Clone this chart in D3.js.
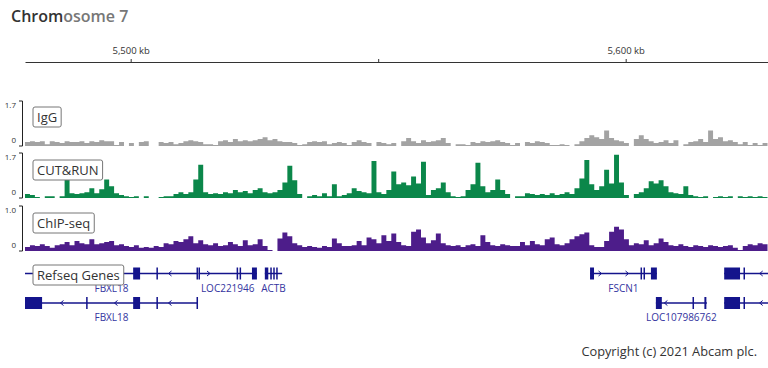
<!DOCTYPE html>
<html>
<head>
<meta charset="utf-8">
<script src="https://cdn.jsdelivr.net/npm/d3@7"></script>
<style>
  body { margin: 0; background: #fff; }
  svg { display: block; font-family: "Open Sans", sans-serif; }
</style>
</head>
<body>
<script>
// Genomic window shown (kb) and signal bin size (kb)
var windowStart = 5478.65;
var windowEnd = 5628.75;
var binSize = 1;
var tickValues = [5500, 5550, 5600];

// Signal tracks, one value per 1 kb bin from windowStart
var iggValues = [
  0.15, 0.18, 0.15, 0.18, 0.07, 0.18,
  0.15, 0.11, 0.18, 0.15, 0.15, 0.18, 0.11, 0.18, 0.15, 0.22, 0.18,
  0.18, 0.04, 0.15, 0, 0.11, 0, 0.15, 0.18, 0, 0,
  0.15, 0.11, 0.15, 0.07, 0.11, 0.18, 0.22, 0.18, 0.15, 0.07, 0.07, 0.04,
  0.18, 0.22, 0.15, 0.26, 0.18, 0.22, 0.18, 0.22, 0.26, 0.33,
  0.22, 0.26, 0.18, 0.15, 0.15, 0.11, 0.04, 0.07, 0.15, 0.18, 0.15, 0.18,
  0.07, 0.11, 0.15, 0.11, 0.04, 0.15, 0.22, 0.15, 0.11, 0,
  0.15, 0.11, 0.07, 0.11, 0, 0.18, 0.30, 0.18, 0.11, 0.22,
  0.15, 0.18, 0.22, 0.30, 0.11, 0, 0.07, 0.07, 0.04,
  0.15, 0.11, 0.18, 0.15, 0.18, 0.22, 0.15, 0.11, 0.04, 0.11, 0,
  0.15, 0.11, 0.18, 0.15, 0.11, 0.04, 0.04, 0.07, 0.04, 0, 0.07,
  0.18, 0.30, 0.41, 0.33, 0.26, 0.59, 0.30, 0.22, 0.18, 0.11, 0,
  0.26, 0.41, 0.26, 0.18, 0.11, 0.15, 0.22, 0.11, 0.22, 0, 0.07,
  0.15, 0.18, 0.26, 0.15, 0.59, 0.26, 0.33, 0.18, 0.22, 0.15,
  0.07, 0.15, 0.04, 0.11, 0.04, 0.11
];
var cutRunValues = [
  0.15, 0.11, 0.04, 0, 0.07, 0.07, 0, 0.07, 0.70, 0.18,
  0.15, 0.18, 0.22, 0.37, 0.18, 0.33, 0.70, 0.44, 0.18, 0.11,
  0.07, 0.04, 0.07, 0, 0.07, 0, 0, 0.04, 0.07, 0.07,
  0.15, 0.22, 0.15, 0.22, 0.70, 1.26, 0.22, 0.15, 0.18, 0.15,
  0.22, 0.18, 0.30, 0.22, 0.26, 0.18, 0.30, 0.37, 0.22, 0.18,
  0.22, 0.30, 0.59, 1.22, 0.67, 0.15, 0, 0.07, 0.11, 0.07,
  0.18, 0.07, 0.52, 0.07, 0.11, 0.18, 0.37, 0.26, 0.22, 0.18,
  1.40, 0.22, 0.15, 0.30, 1.00, 0.52, 0.59, 0.48, 0.81, 0.55,
  1.37, 0.11, 0.30, 0.37, 0.59, 0.22, 0.07, 0.04, 0.07, 0.30,
  0.52, 1.33, 0.44, 0.22, 0.30, 0.70, 0.30, 0.15, 0, 0.07,
  0.07, 0.18, 0.15, 0.11, 0.15, 0.11, 0.18, 0.11, 0.15, 0.22,
  0.15, 0.37, 0.74, 1.44, 0.52, 0.30, 0.44, 1.07, 0.55, 1.63,
  0.59, 0.11, 0, 0.15, 0.22, 0.37, 0.63, 0.55, 0.67, 0.44,
  0.22, 0.18, 0.15, 0.44, 0.11, 0.07, 0.04, 0.07, 0, 0.04,
  0.07, 0.04, 0.07, 0, 0.07, 0.04, 0.07, 0.04, 0.07, 0.04
];
var chipValues = [
  0.09, 0.13, 0.11, 0.15, 0.11, 0.07, 0.13, 0.15, 0.20, 0.13,
  0.22, 0.17, 0.15, 0.26, 0.15, 0.17, 0.20, 0.22, 0.13, 0.15,
  0.11, 0.09, 0.13, 0.07, 0.09, 0.07, 0.11, 0.09, 0.17, 0.15,
  0.22, 0.20, 0.26, 0.33, 0.17, 0.24, 0.15, 0.13, 0.17, 0.11,
  0.13, 0.20, 0.15, 0.11, 0.24, 0.13, 0.15, 0.26, 0.11, 0.02,
  0, 0.28, 0.41, 0.33, 0.17, 0.13, 0.09, 0.11, 0.09, 0.07,
  0.11, 0.09, 0.28, 0.17, 0.11, 0.11, 0.13, 0.22, 0.13, 0.30,
  0.26, 0.17, 0.35, 0.22, 0.39, 0.20, 0.13, 0.11, 0.43, 0.48,
  0.30, 0.17, 0.24, 0.39, 0.17, 0.13, 0.11, 0.13, 0.09, 0.13,
  0.15, 0.11, 0.35, 0.20, 0.13, 0.11, 0.15, 0.13, 0.11, 0.11,
  0.20, 0.13, 0.22, 0.15, 0.13, 0.26, 0.30, 0.15, 0.13, 0.17,
  0.26, 0.33, 0.37, 0.41, 0.13, 0.09, 0.09, 0.22, 0.43, 0.54,
  0.48, 0.26, 0.13, 0.17, 0.15, 0.24, 0.13, 0.17, 0.28, 0.20,
  0.13, 0.11, 0.15, 0.11, 0.09, 0.13, 0.11, 0.09, 0.13, 0.11,
  0.09, 0.11, 0.13, 0.07, 0.02, 0.11, 0.15, 0.13, 0.17, 0.15
];
var trackNames = ['IgG', 'CUT&RUN', 'ChIP-seq'];
var trackMax = [1.7, 1.7, 1.0];
var trackColors = ['#a3a3a3', '#0b874a', '#4d1d8a'];

// Refseq genes (kb); exons as [start, end]
var geneNames = ['FBXL18', 'FBXL18', 'LOC221946', 'ACTB', 'FSCN1', 'LOC107986762', null, null];
var geneRows = [0, 1, 0, 0, 0, 1, 0, 1];
var geneStarts = [5478.65, 5478.65, 5513.7, 5527.1, 5592.8, 5606.1, 5619.9, 5619.9];
var geneEnds = [5513.6, 5513.6, 5525.5, 5530.6, 5606.3, 5616.4, 5640, 5640];
var geneStrands = ['-', '-', '+', '-', '+', '-', '-', '-'];
var geneExons = [
  [[5500.5, 5501.9], [5505.2, 5505.5], [5513.3, 5513.6]],
  [[5478.65, 5482.1], [5491.0, 5491.3], [5500.5, 5501.9], [5505.2, 5505.5], [5513.3, 5513.6]],
  [[5513.7, 5514.0], [5521.4, 5521.7], [5522.0, 5522.3], [5524.5, 5525.5]],
  [[5527.1, 5527.8], [5528.2, 5528.5], [5528.8, 5529.1], [5529.4, 5529.7]],
  [[5592.8, 5593.6], [5603.0, 5603.3], [5603.6, 5603.9], [5605.1, 5606.3]],
  [[5606.1, 5607.3], [5613.5, 5613.8], [5615.9, 5616.3]],
  [[5619.9, 5623.1], [5623.8, 5624.1]],
  [[5619.9, 5623.1], [5623.8, 5624.1]]
];

var width = 768;
var height = 368;
var left = 25;
var right = 768;
var trackTops = [101, 153, 206];
var trackHeight = 45;
var geneRowY = [273.5, 303];
var geneColor = '#14148c';

var svg = d3.select('body')
            .append('svg')
            .attr('width', width)
            .attr('height', height);

svg.append('defs')
   .append('clipPath')
   .attr('id', 'view')
   .append('rect')
   .attr('x', left)
   .attr('y', 0)
   .attr('width', right - left)
   .attr('height', height);

// Title
var title = svg.append('text')
               .attr('x', 11)
               .attr('y', 22)
               .attr('font-size', 16)
               .attr('font-weight', 600);
title.append('tspan').attr('fill', '#333').text('Chrom');
title.append('tspan').attr('fill', '#777').text('osome 7');

// Ruler
var x = d3.scaleLinear()
          .domain([windowStart, windowEnd])
          .range([left, right]);

var axis = svg.append('g')
              .attr('transform', 'translate(0,62)')
              .call(d3.axisTop(x)
                      .tickValues(tickValues)
                      .tickSize(3)
                      .tickSizeOuter(0)
                      .tickFormat(function (d) {
                        return d % 100 === 0 ? d3.format(',')(d) + ' kb' : '';
                      }));
axis.select('.domain').attr('stroke', '#333');
axis.selectAll('.tick line').attr('stroke', '#333');
axis.selectAll('.tick text')
    .attr('font-family', '"Open Sans", sans-serif')
    .attr('font-size', 9.5)
    .attr('fill', '#333')
    .attr('dy', '-0.2em');

// Signal tracks
var tracks = trackNames.map(function (name, i) {
  return {
    name: name,
    values: [iggValues, cutRunValues, chipValues][i],
    max: trackMax[i],
    color: trackColors[i],
    top: trackTops[i]
  };
});

tracks.forEach(function (t) {
  var bottom = t.top + trackHeight;
  var y = d3.scaleLinear()
            .domain([0, t.max])
            .range([bottom, t.top]);
  var points = t.values.map(function (v, i) {
    return [windowStart + i * binSize, v];
  });
  points.push([windowStart + t.values.length * binSize, 0]);

  var area = d3.area()
               .curve(d3.curveStepAfter)
               .x(function (d) { return x(d[0]); })
               .y0(bottom)
               .y1(function (d) { return y(d[1]); });

  var g = svg.append('g').attr('class', 'track');
  g.append('path')
   .datum(points)
   .attr('clip-path', 'url(#view)')
   .attr('fill', t.color)
   .attr('d', area);

  // Data range bracket
  g.append('path')
   .attr('d', 'M19,' + t.top + 'H22.5V' + bottom + 'H19')
   .attr('fill', 'none')
   .attr('stroke', '#222')
   .attr('stroke-width', 1);
  g.append('text')
   .attr('x', 16)
   .attr('y', t.top + 7)
   .attr('text-anchor', 'end')
   .attr('font-size', 8)
   .attr('fill', '#333')
   .text(d3.format('.1f')(t.max));
  g.append('text')
   .attr('x', 16)
   .attr('y', bottom - 3)
   .attr('text-anchor', 'end')
   .attr('font-size', 8)
   .attr('fill', '#333')
   .text('0');
});

// Genes
var genes = geneNames.map(function (name, i) {
  return {
    name: name,
    row: geneRows[i],
    start: geneStarts[i],
    end: geneEnds[i],
    strand: geneStrands[i],
    exons: geneExons[i]
  };
});

var geneLayer = svg.append('g')
                   .attr('class', 'genes')
                   .attr('clip-path', 'url(#view)');

genes.forEach(function (gene) {
  var cy = geneRowY[gene.row];
  var g = geneLayer.append('g');
  var x0 = x(gene.start);
  var x1 = x(gene.end);

  g.append('line')
   .attr('x1', x0)
   .attr('x2', x1)
   .attr('y1', cy)
   .attr('y2', cy)
   .attr('stroke', geneColor)
   .attr('stroke-width', 1.5);

  // Strand chevrons on the intron line
  var exonPx = gene.exons.map(function (e) { return [x(e[0]) - 3, x(e[1]) + 3]; });
  for (var px = x0 + 10; px < x1 - 4; px += 27) {
    var inExon = exonPx.some(function (e) { return px > e[0] && px < e[1]; });
    if (inExon) continue;
    var d = gene.strand === '+'
      ? 'M' + (px - 1.5) + ',' + (cy - 2.5) + 'L' + (px + 1.5) + ',' + cy + 'L' + (px - 1.5) + ',' + (cy + 2.5)
      : 'M' + (px + 1.5) + ',' + (cy - 2.5) + 'L' + (px - 1.5) + ',' + cy + 'L' + (px + 1.5) + ',' + (cy + 2.5);
    g.append('path')
     .attr('d', d)
     .attr('fill', 'none')
     .attr('stroke', geneColor)
     .attr('stroke-width', 1);
  }

  g.selectAll('rect')
   .data(gene.exons)
   .enter()
   .append('rect')
   .attr('x', function (e) { return x(e[0]); })
   .attr('width', function (e) { return Math.max(1.5, x(e[1]) - x(e[0])); })
   .attr('y', cy - 6)
   .attr('height', 12)
   .attr('fill', geneColor);

  if (gene.name) {
    g.append('text')
     .attr('x', x((gene.start + gene.end) / 2))
     .attr('y', cy + 18)
     .attr('text-anchor', 'middle')
     .attr('font-size', 10)
     .attr('fill', '#3434a0')
     .text(gene.name);
  }
});

// Track name boxes (drawn on top, as in the original the first FBXL18 label sits partly under one)
var labelNames = trackNames.concat(['Refseq Genes']);
var labelTops = [107, 160, 213, 265];
labelNames.forEach(function (name, i) {
  var g = svg.append('g').attr('class', 'track-label');
  var rect = g.append('rect')
              .attr('x', 33)
              .attr('y', labelTops[i])
              .attr('height', 20)
              .attr('rx', 2)
              .attr('fill', '#fff')
              .attr('stroke', '#777')
              .attr('stroke-width', 1);
  var text = g.append('text')
              .attr('x', 37)
              .attr('y', labelTops[i] + 15)
              .attr('font-size', 13)
              .attr('fill', '#333')
              .text(name);
  rect.attr('width', text.node().getComputedTextLength() + 8);
});

// Footer
svg.append('text')
   .attr('x', 757)
   .attr('y', 356)
   .attr('text-anchor', 'end')
   .attr('font-size', 12.8)
   .attr('fill', '#333')
   .text('Copyright (c) 2021 Abcam plc.');
</script>
</body>
</html>
